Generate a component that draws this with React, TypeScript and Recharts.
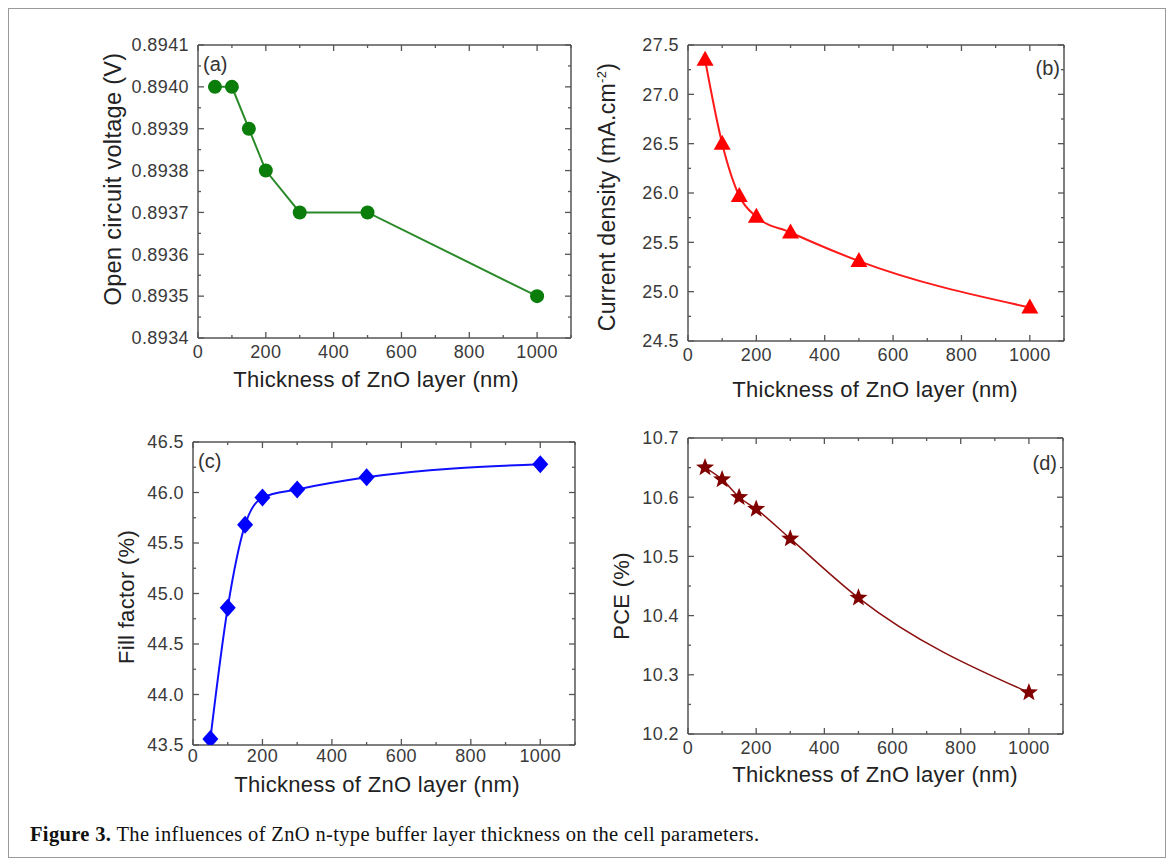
import React from "react";
import { LineChart, Line, XAxis, YAxis } from "recharts";

// ZnO buffer thickness (nm)
const thickness = [50, 100, 150, 200, 300, 500, 1000];

const vocValues = [0.894, 0.894, 0.8939, 0.8938, 0.8937, 0.8937, 0.8935];
const jscValues = [27.35, 26.5, 25.97, 25.76, 25.6, 25.31, 24.84];
const ffValues = [43.56, 44.86, 45.68, 45.95, 46.03, 46.15, 46.28];
const pceValues = [10.65, 10.63, 10.6, 10.58, 10.53, 10.43, 10.27];

const xTicks = [0, 100, 200, 300, 400, 500, 600, 700, 800, 900, 1000, 1100];
const vocTicks = [
  0.8934, 0.89345, 0.8935, 0.89355, 0.8936, 0.89365, 0.8937, 0.89375, 0.8938,
  0.89385, 0.8939, 0.89395, 0.894, 0.89405, 0.8941,
];
const jscTicks = [24.5, 24.75, 25, 25.25, 25.5, 25.75, 26, 26.25, 26.5, 26.75, 27, 27.25, 27.5];
const ffTicks = [43.5, 43.75, 44, 44.25, 44.5, 44.75, 45, 45.25, 45.5, 45.75, 46, 46.25, 46.5];
const pceTicks = [10.2, 10.25, 10.3, 10.35, 10.4, 10.45, 10.5, 10.55, 10.6, 10.65, 10.7];

const FONT = "'Liberation Sans', Arial, sans-serif";
const AXIS = "#555";
const TICK_TEXT = "#3a3a3a";

type Side = "bottom" | "top" | "left" | "right";

function isMajor(v: number, step: number) {
  const r = v / step;
  return Math.abs(r - Math.round(r)) < 1e-6;
}

function makeTick(side: Side, step: number, margin: number, fmt?: (v: number) => string) {
  return (props: any) => {
    const { x, y, payload } = props;
    const v = payload.value as number;
    const len = isMajor(v, step) ? 6 : 3;
    const showLabel = fmt && isMajor(v, step);
    let line = null;
    let label = null;
    const textProps = {
      fill: TICK_TEXT,
      fontSize: 18,
      fontFamily: FONT,
      letterSpacing: 0.4,
    };
    if (side === "bottom") {
      const ay = y - margin;
      line = <line x1={x} y1={ay} x2={x} y2={ay - len} stroke={AXIS} strokeWidth={1.3} />;
      if (showLabel)
        label = (
          <text x={x} y={y} dy="0.71em" textAnchor="middle" {...textProps}>
            {fmt!(v)}
          </text>
        );
    } else if (side === "top") {
      const ay = y + margin;
      line = <line x1={x} y1={ay} x2={x} y2={ay + len} stroke={AXIS} strokeWidth={1.3} />;
    } else if (side === "left") {
      const ax = x + margin;
      line = <line x1={ax} y1={y} x2={ax + len} y2={y} stroke={AXIS} strokeWidth={1.3} />;
      if (showLabel)
        label = (
          <text x={x} y={y} dy="0.35em" textAnchor="end" {...textProps}>
            {fmt!(v)}
          </text>
        );
    } else {
      const ax = x - margin;
      line = <line x1={ax} y1={y} x2={ax - len} y2={y} stroke={AXIS} strokeWidth={1.3} />;
    }
    return (
      <g>
        {line}
        {label}
      </g>
    );
  };
}

type Shape = "circle" | "triangle" | "diamond" | "star";

function markerPath(shape: Shape, cx: number, cy: number) {
  if (shape === "triangle") {
    return `M${cx},${cy - 9} L${cx + 8.5},${cy + 6} L${cx - 8.5},${cy + 6} Z`;
  }
  if (shape === "diamond") {
    return `M${cx},${cy - 9} L${cx + 8},${cy} L${cx},${cy + 9} L${cx - 8},${cy} Z`;
  }
  // star
  const pts: string[] = [];
  for (let i = 0; i < 10; i++) {
    const r = i % 2 === 0 ? 9.5 : 4;
    const a = -Math.PI / 2 + (i * Math.PI) / 5;
    pts.push(`${cx + r * Math.cos(a)},${cy + r * Math.sin(a)}`);
  }
  return `M${pts.join(" L")} Z`;
}

function makeDot(shape: Shape, color: string) {
  return (p: any) => {
    const { cx, cy, index } = p;
    if (shape === "circle") {
      return <circle key={`d${index}`} cx={cx} cy={cy} r={7} fill={color} />;
    }
    return <path key={`d${index}`} d={markerPath(shape, cx, cy)} fill={color} />;
  };
}

interface PanelProps {
  values: number[];
  yTicks: number[];
  yStep: number;
  digits: number;
  color: string;
  lineColor: string;
  lineWidth: number;
  curve: "linear" | "monotone";
  shape: Shape;
  L: number;
  R: number;
  T: number;
  B: number;
  xMargin: number;
}

const LEFT_W = 80;
const RIGHT_W = 10;
const TOP_H = 10;
const BOTTOM_H = 34;

function Panel(p: PanelProps) {
  const data = thickness.map((t, i) => ({ t, v: p.values[i] }));
  const yDomain = [p.yTicks[0], p.yTicks[p.yTicks.length - 1]];
  const fmtY = (v: number) => v.toFixed(p.digits);
  const fmtX = (v: number) => String(v);
  return (
    <div style={{ position: "absolute", left: p.L - LEFT_W, top: p.T - TOP_H }}>
      <LineChart
        width={p.R - p.L + LEFT_W + RIGHT_W}
        height={p.B - p.T + TOP_H + BOTTOM_H}
        data={data}
        margin={{ top: 0, right: 0, bottom: 0, left: 0 }}
      >
        <XAxis
          xAxisId="bottom"
          dataKey="t"
          type="number"
          domain={[0, 1100]}
          ticks={xTicks}
          interval={0}
          allowDataOverflow
          height={BOTTOM_H}
          tickSize={0}
          tickMargin={p.xMargin}
          tickLine={false}
          axisLine={{ stroke: AXIS, strokeWidth: 1.5 }}
          tick={makeTick("bottom", 200, p.xMargin, fmtX)}
        />
        <XAxis
          xAxisId="top"
          orientation="top"
          dataKey="t"
          type="number"
          domain={[0, 1100]}
          ticks={xTicks}
          interval={0}
          allowDataOverflow
          height={TOP_H}
          tickSize={0}
          tickMargin={0}
          tickLine={false}
          axisLine={{ stroke: AXIS, strokeWidth: 1.5 }}
          tick={makeTick("top", 200, 0)}
        />
        <YAxis
          yAxisId="left"
          type="number"
          domain={yDomain}
          ticks={p.yTicks}
          interval={0}
          allowDataOverflow
          width={LEFT_W}
          tickSize={0}
          tickMargin={9}
          tickLine={false}
          axisLine={{ stroke: AXIS, strokeWidth: 1.5 }}
          tick={makeTick("left", p.yStep, 9, fmtY)}
        />
        <YAxis
          yAxisId="right"
          orientation="right"
          type="number"
          domain={yDomain}
          ticks={p.yTicks}
          interval={0}
          allowDataOverflow
          width={RIGHT_W}
          tickSize={0}
          tickMargin={0}
          tickLine={false}
          axisLine={{ stroke: AXIS, strokeWidth: 1.5 }}
          tick={makeTick("right", p.yStep, 0)}
        />
        <Line
          xAxisId="bottom"
          yAxisId="left"
          type={p.curve}
          dataKey="v"
          stroke={p.lineColor}
          strokeWidth={p.lineWidth}
          dot={makeDot(p.shape, p.color)}
          activeDot={false}
          isAnimationActive={false}
        />
      </LineChart>
    </div>
  );
}

const titleStyle: React.CSSProperties = {
  position: "absolute",
  fontFamily: FONT,
  fontSize: 22,
  letterSpacing: 0.3,
  color: "#222",
  whiteSpace: "nowrap",
  transform: "translate(-50%, -50%)",
  lineHeight: 1,
};

function XTitle({ x, y }: { x: number; y: number }) {
  return <div style={{ ...titleStyle, left: x, top: y }}>Thickness of ZnO layer (nm)</div>;
}

function YTitle({ x, y, size, children }: { x: number; y: number; size?: number; children: React.ReactNode }) {
  return (
    <div
      style={{
        ...titleStyle,
        left: x,
        top: y,
        fontSize: size ?? 22,
        transform: "translate(-50%, -50%) rotate(-90deg)",
      }}
    >
      {children}
    </div>
  );
}

function Tag({ x, y, text, anchor }: { x: number; y: number; text: string; anchor: "left" | "right" }) {
  return (
    <div
      style={{
        position: "absolute",
        left: x,
        top: y,
        fontFamily: FONT,
        fontSize: 20,
        color: "#333",
        lineHeight: 1,
        transform: anchor === "left" ? "translate(0, -50%)" : "translate(-100%, -50%)",
      }}
    >
      {text}
    </div>
  );
}

export default function App() {
  return (
    <div
      style={{
        position: "absolute",
        left: 0,
        top: 0,
        width: 1171,
        height: 865,
        background: "#fff",
        overflow: "hidden",
      }}
    >
      <div
        style={{
          position: "absolute",
          left: 8,
          top: 8,
          width: 1156,
          height: 848,
          border: "1.5px solid #9a9a9a",
        }}
      />

      <Panel
        values={vocValues}
        yTicks={vocTicks}
        yStep={0.0001}
        digits={4}
        color="#0b7d0b"
        lineColor="#2a8a2a"
        lineWidth={2}
        curve="linear"
        shape="circle"
        L={198}
        R={571}
        T={45}
        B={338}
        xMargin={7}
      />
      <Panel
        values={jscValues}
        yTicks={jscTicks}
        yStep={0.5}
        digits={1}
        color="#ff0000"
        lineColor="#ff1a1a"
        lineWidth={2}
        curve="monotone"
        shape="triangle"
        L={688}
        R={1064}
        T={45}
        B={341}
        xMargin={7}
      />
      <Panel
        values={ffValues}
        yTicks={ffTicks}
        yStep={0.5}
        digits={1}
        color="#0000ff"
        lineColor="#1010ff"
        lineWidth={2}
        curve="monotone"
        shape="diamond"
        L={193}
        R={575}
        T={442}
        B={745}
        xMargin={4}
      />
      <Panel
        values={pceValues}
        yTicks={pceTicks}
        yStep={0.1}
        digits={1}
        color="#800000"
        lineColor="#8b1010"
        lineWidth={1.5}
        curve="monotone"
        shape="star"
        L={688}
        R={1063}
        T={438}
        B={734}
        xMargin={7}
      />

      <Tag x={203} y={64} text="(a)" anchor="left" />
      <Tag x={1060} y={68} text="(b)" anchor="right" />
      <Tag x={198} y={461} text="(c)" anchor="left" />
      <Tag x={1057} y={463} text="(d)" anchor="right" />

      <YTitle x={114} y={179} size={23.5}>
        Open circuit voltage (V)
      </YTitle>
      <YTitle x={607} y={197} size={23}>
        Current density (mA.cm<sup style={{ fontSize: 13 }}>-2</sup>)
      </YTitle>
      <YTitle x={127} y={597}>
        Fill factor (%)
      </YTitle>
      <YTitle x={622} y={596}>
        PCE (%)
      </YTitle>

      <XTitle x={376} y={380} />
      <XTitle x={875} y={390} />
      <XTitle x={377} y={785} />
      <XTitle x={875} y={775} />

      <div
        style={{
          position: "absolute",
          left: 30,
          top: 822,
          fontFamily: "'Liberation Serif', 'Times New Roman', serif",
          fontSize: 20.5,
          letterSpacing: 0.35,
          color: "#111",
          whiteSpace: "nowrap",
          lineHeight: 1.2,
        }}
      >
        <b>Figure 3.</b> The influences of ZnO n-type buffer layer thickness on the cell parameters.
      </div>
    </div>
  );
}
